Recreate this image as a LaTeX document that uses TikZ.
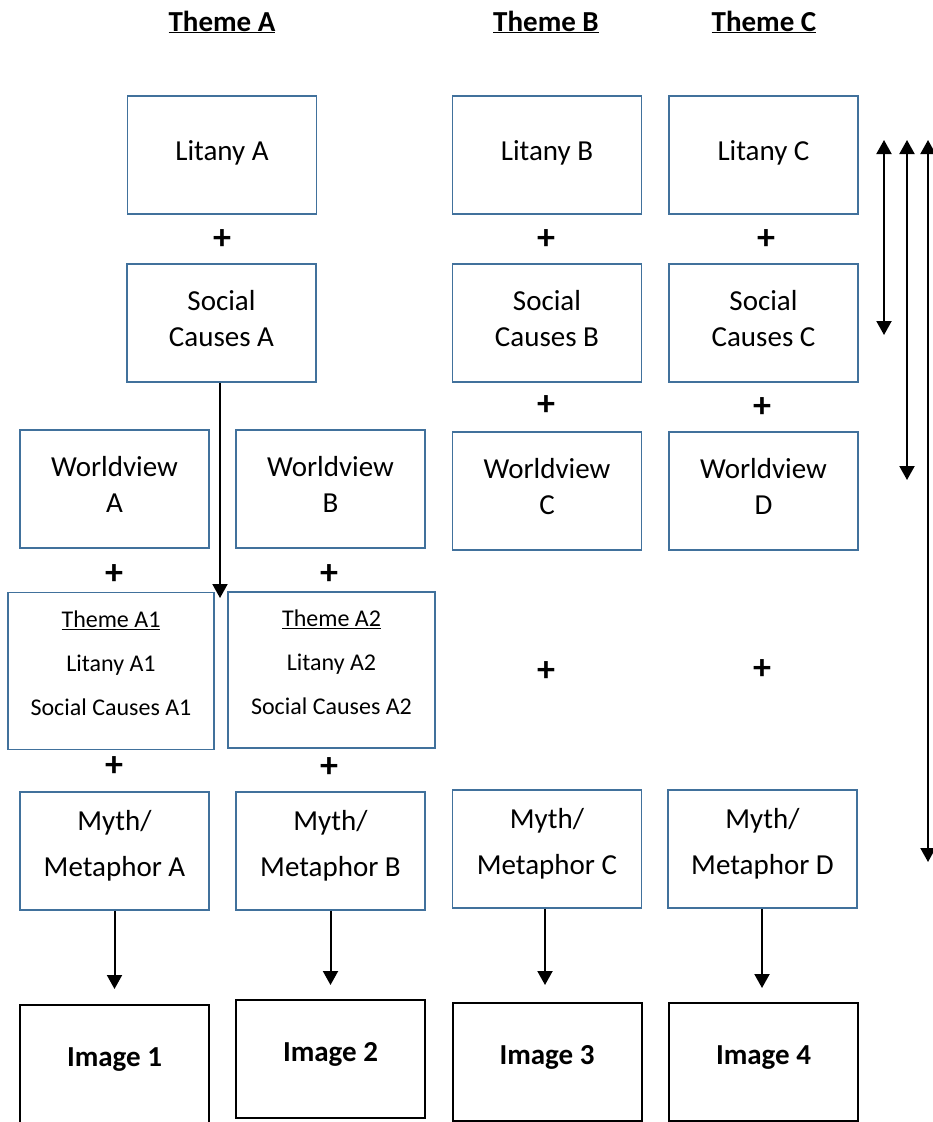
\documentclass[tikz,border=0pt]{standalone}
\usepackage{fontspec}
\setmainfont{Carlito}
\usetikzlibrary{arrows.meta}
\definecolor{boxblue}{RGB}{65,113,156}
\begin{document}
\begin{tikzpicture}[x=1pt,y=-1pt,
  bx/.style={draw=boxblue, line width=1.5pt, minimum width=189pt, minimum height=118pt, inner sep=0pt, align=center, font=\fontsize{29}{36}\selectfont,
    execute at begin node={\rule{0pt}{20pt}}, execute at end node={\rule[-9pt]{0pt}{9pt}}},
  mythbox/.style={bx, font=\fontsize{29}{46}\selectfont,
    execute at begin node={\rule{0pt}{22pt}}, execute at end node={\rule[-15pt]{0pt}{15pt}}},
  themebox/.style={bx, minimum width=206pt, minimum height=157pt, font=\fontsize{24}{44}\selectfont,
    execute at begin node={\rule{0pt}{18pt}}, execute at end node={\rule[-15pt]{0pt}{15pt}}},
  imgbox/.style={draw=black, line width=2pt, minimum width=189pt, minimum height=118pt, inner sep=0pt, font=\fontsize{29}{36}\selectfont\bfseries,
    execute at begin node={\rule{0pt}{20pt}}, execute at end node={\rule[-15pt]{0pt}{15pt}}},
  hdr/.style={font=\fontsize{29}{36}\selectfont\bfseries, inner sep=0pt},
  plus/.style={font=\fontsize{36}{40}\selectfont\bfseries, inner sep=0pt},
  arr/.style={-{Triangle[width=15pt,length=14pt]}, line width=2pt},
  darr/.style={{Triangle[width=15pt,length=14pt]}-{Triangle[width=15pt,length=14pt]}, line width=2pt}
]
\useasboundingbox (0,0) rectangle (933,1122);
\fill[white] (0,0) rectangle (933,1122);

% headers
\node[hdr] (hA) at (222,22) {\underline{Theme A}};
\node[hdr] (hB) at (546,22) {\underline{Theme B}};
\node[hdr] (hC) at (764,22) {\underline{Theme C}};

% litany row
\node[bx] (LA) at (222,155) {Litany A};
\node[bx] (LB) at (547,155) {Litany B};
\node[bx] (LC) at (763.5,155) {Litany C};

\node[plus] (p1) at (222,240) {+};
\node[plus] (p2) at (546,240) {+};
\node[plus] (p3) at (766,240) {+};

% social causes row
\node[bx] (SA) at (221.5,323) {Social\\Causes A};
\node[bx] (SB) at (547,323) {Social\\Causes B};
\node[bx] (SC) at (763.5,323) {Social\\Causes C};

\node[plus] (p4) at (546,406) {+};
\node[plus] (p5) at (762,408) {+};

% worldview row
\node[bx] (WA) at (114.5,489) {Worldview\\A};
\node[bx] (WB) at (330.5,489) {Worldview\\B};
\node[bx] (WC) at (547,491) {Worldview\\C};
\node[bx] (WD) at (763.5,491) {Worldview\\D};

\node[plus] (p6) at (114,575) {+};
\node[plus] (p7) at (329,575) {+};

% theme A1/A2
\node[themebox] (TA1) at (111,671) {\underline{Theme A1}\\Litany A1\\Social Causes A1};
\node[themebox, minimum width=207pt, minimum height=156pt] (TA2) at (331.5,670) {\underline{Theme A2}\\Litany A2\\Social Causes A2};

\node[plus] (p8) at (546,672) {+};
\node[plus] (p9) at (762,670) {+};
\node[plus] (p10) at (114,767) {+};
\node[plus] (p11) at (329,768) {+};

% myth row
\node[mythbox] (MA) at (114.5,851) {Myth/\\Metaphor A};
\node[mythbox] (MB) at (330.5,851) {Myth/\\Metaphor B};
\node[mythbox] (MC) at (547,849) {Myth/\\Metaphor C};
\node[mythbox] (MD) at (762.5,849) {Myth/\\Metaphor D};

% image row
\node[imgbox] (I1) at (114.5,1064) {Image 1};
\node[imgbox] (I2) at (330.5,1059) {Image 2};
\node[imgbox] (I3) at (547,1062) {Image 3};
\node[imgbox] (I4) at (763.5,1062) {Image 4};

% arrow from Social Causes A into Theme A1
\coordinate (a1) at (220,598);
\draw[arr] (SA.south -| a1) -- (a1);

% myth to image arrows
\coordinate (e1) at (114.5,989);
\coordinate (e2) at (330.5,985);
\coordinate (e3) at (545,985);
\coordinate (e4) at (762,988);
\draw[arr] (MA.south) -- (e1);
\draw[arr] (MB.south) -- (e2);
\draw[arr] (MC.south -| e3) -- (e3);
\draw[arr] (MD.south -| e4) -- (e4);

% right-side range arrows
\coordinate (r1t) at (884,140);
\coordinate (r1b) at (884,335);
\coordinate (r2t) at (907,140);
\coordinate (r2b) at (907,480);
\coordinate (r3t) at (928,140);
\coordinate (r3b) at (928,862);
\draw[darr] (r1t) -- (r1b);
\draw[darr] (r2t) -- (r2b);
\draw[darr] (r3t) -- (r3b);
\end{tikzpicture}
\end{document}
